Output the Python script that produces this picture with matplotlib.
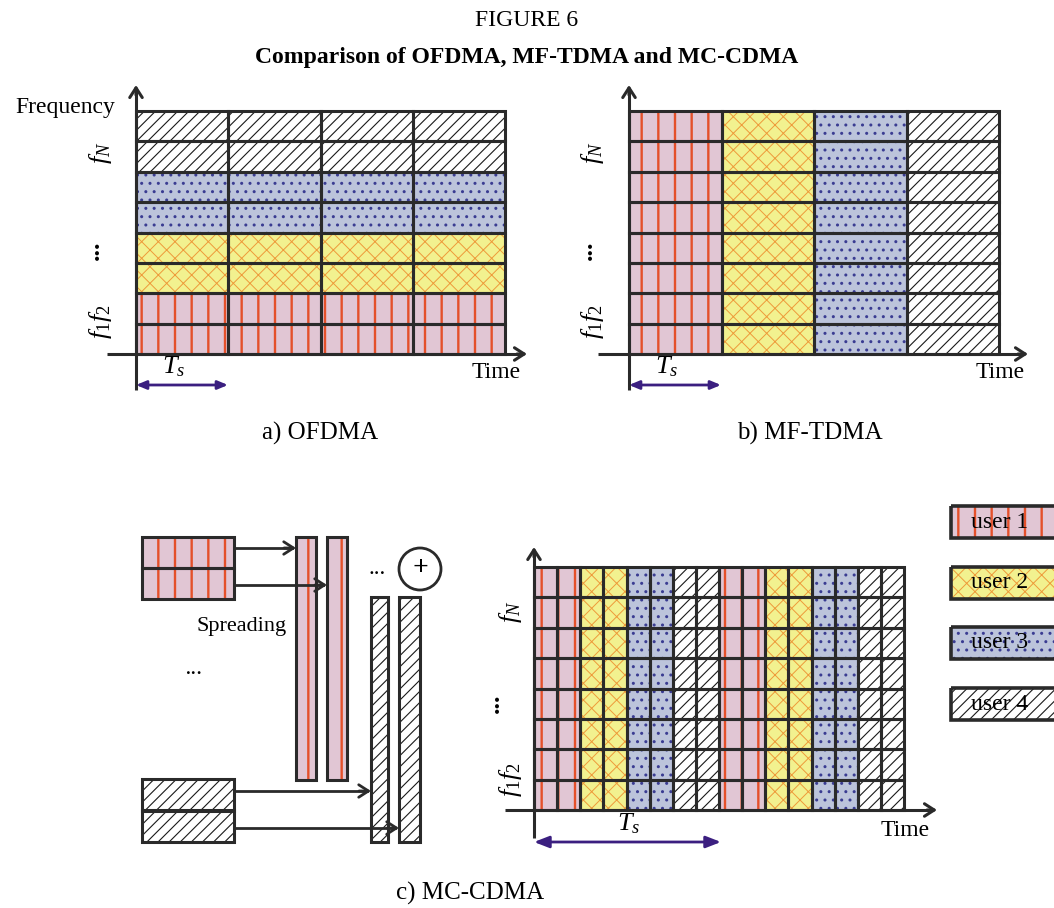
import matplotlib
matplotlib.use("Agg")
import matplotlib.pyplot as plt
from matplotlib.patches import Rectangle, Circle

plt.rcParams["font.family"] = ["Liberation Serif", "DejaVu Serif"]
plt.rcParams["mathtext.fontset"] = "custom"
plt.rcParams["mathtext.rm"] = "Liberation Serif"
plt.rcParams["mathtext.it"] = "Liberation Serif:italic"

# users and their fill styles
USERS = ["user 1", "user 2", "user 3", "user 4"]
USER_FILL = ["#E1C6D4", "#F2F18F", "#BCC4DB", "#FFFFFF"]
USER_HATCH = ["|", "xx", "..", "///"]
USER_HATCH_COLOR = ["#E4502A", "#EE9A3A", "#3A3C92", "#1A1A1A"]
USER_HATCH_LW = [1.7, 0.7, 1.0, 0.8]

# which user occupies each cell (row 0 = f1 at the bottom)
OFDMA_ROWS = [0, 0, 1, 1, 2, 2, 3, 3]
OFDMA_SLOTS = 4
TDMA_COLS = [0, 1, 2, 3]
TDMA_CHANNELS = 8
CDMA_COLS = [0, 0, 1, 1, 2, 2, 3, 3, 0, 0, 1, 1, 2, 2, 3, 3]
CDMA_CHANNELS = 8

CAPTIONS = ["a) OFDMA", "b) MF-TDMA", "c) MC-CDMA"]
TITLE = "FIGURE 6"
SUBTITLE = "Comparison of OFDMA, MF-TDMA and MC-CDMA"

GRID_COLOR = "#2A2A2A"
TS_COLOR = "#3B1F80"
FS = 17


def hatched_rect(ax, x, y, w, h, user, lw_edge=2.2, z=2):
    ax.add_patch(Rectangle((x, y), w, h, facecolor=USER_FILL[user],
                           edgecolor="none", zorder=z))
    with plt.rc_context({"hatch.linewidth": USER_HATCH_LW[user]}):
        p = Rectangle((x, y), w, h, facecolor="none",
                      edgecolor=USER_HATCH_COLOR[user], linewidth=0,
                      hatch=USER_HATCH[user], zorder=z + 0.1)
    if hasattr(p, "set_hatch_linewidth"):
        p.set_hatch_linewidth(USER_HATCH_LW[user])
    ax.add_patch(p)
    if lw_edge:
        ax.add_patch(Rectangle((x, y), w, h, facecolor="none",
                               edgecolor=GRID_COLOR, linewidth=lw_edge,
                               zorder=z + 0.2))


def draw_grid(ax, x0, x1, y_top, y_bot, layout, lw=2.2):
    n_rows, n_cols = len(layout), len(layout[0])
    w = (x1 - x0) / n_cols
    h = (y_bot - y_top) / n_rows
    for r in range(n_rows):
        for c in range(n_cols):
            hatched_rect(ax, x0 + c * w, y_bot - (r + 1) * h, w, h,
                         layout[r][c], lw_edge=lw)


def arrow(ax, start, tip, color=GRID_COLOR, lw=2.2, style="->,head_length=0.7,head_width=0.45"):
    ax.annotate("", xy=tip, xytext=start, zorder=5,
                arrowprops=dict(arrowstyle=style, color=color, lw=lw,
                                shrinkA=0, shrinkB=0))


def draw_axes(ax, x_ax, y_ax, x_left, x_tip, y_tip, y_low):
    ax.plot([x_ax, x_ax], [y_low, y_tip + 5], color=GRID_COLOR, lw=2.2, zorder=5,
            solid_capstyle="butt")
    arrow(ax, (x_ax, y_tip + 10), (x_ax, y_tip))
    ax.plot([x_left, x_tip - 5], [y_ax, y_ax], color=GRID_COLOR, lw=2.2, zorder=5,
            solid_capstyle="butt")
    arrow(ax, (x_tip - 10, y_ax), (x_tip, y_ax))


def freq_labels(ax, x, y_n, y_dots, y_12, dots_x):
    ax.text(x, y_n, "$f_N$", rotation=90, ha="center", va="center", fontsize=FS + 2)
    ax.text(dots_x, y_dots, "...", rotation=90, ha="center", va="center",
            fontsize=FS + 2, fontweight="bold")
    ax.text(x, y_12, "$f_1f_2$", rotation=90, ha="center", va="center", fontsize=FS + 2)


def ts_arrow(ax, x0, x1, y, label_x, label_y, big=False):
    style = ("<|-|>,head_length=0.9,head_width=0.35" if big
             else "<|-|>,head_length=0.6,head_width=0.25")
    ax.annotate("", xy=(x1, y), xytext=(x0, y), zorder=6,
                arrowprops=dict(arrowstyle=style, color=TS_COLOR, lw=2,
                                shrinkA=0, shrinkB=0))
    ax.text(label_x, label_y, "$T_s$", ha="center", va="center", fontsize=FS + 2)


fig = plt.figure(figsize=(10.54, 9.08), dpi=100)
ax = fig.add_axes([0, 0, 1, 1])
ax.set_xlim(0, 1054)
ax.set_ylim(908, 0)
ax.axis("off")

ax.text(527, 20, TITLE, ha="center", va="center", fontsize=FS)
ax.text(527, 57, SUBTITLE, ha="center", va="center", fontsize=FS, fontweight="bold")

# a) OFDMA
layout_a = [[u] * OFDMA_SLOTS for u in OFDMA_ROWS]
draw_grid(ax, 136, 505, 111, 354, layout_a)
draw_axes(ax, 136, 354, 107, 527, 85, 390)
ax.text(65, 108, "Frequency", ha="center", va="center", fontsize=FS)
freq_labels(ax, 100, 153, 250, 322, dots_x=92)
ts_arrow(ax, 136, 228, 385, 174, 367)
ax.text(496, 373, "Time", ha="center", va="center", fontsize=FS)
ax.text(320, 433, CAPTIONS[0], ha="center", va="center", fontsize=FS + 1)

# b) MF-TDMA
layout_b = [list(TDMA_COLS) for _ in range(TDMA_CHANNELS)]
draw_grid(ax, 629, 999, 111, 354, layout_b)
draw_axes(ax, 629, 354, 598, 1028, 85, 390)
freq_labels(ax, 593, 153, 250, 322, dots_x=585)
ts_arrow(ax, 629, 721, 385, 667, 367)
ax.text(1000, 373, "Time", ha="center", va="center", fontsize=FS)
ax.text(810, 433, CAPTIONS[1], ha="center", va="center", fontsize=FS + 1)

# c) MC-CDMA grid
layout_c = [list(CDMA_COLS) for _ in range(CDMA_CHANNELS)]
draw_grid(ax, 534, 904, 567, 810, layout_c)
draw_axes(ax, 534, 810, 505, 937, 547, 838)
freq_labels(ax, 510, 612, 703, 780, dots_x=492)
ts_arrow(ax, 534, 721, 842, 629, 824, big=True)
ax.text(905, 831, "Time", ha="center", va="center", fontsize=FS)
ax.text(470, 893, CAPTIONS[2], ha="center", va="center", fontsize=FS + 1)

# c) spreading sketch
for top in (537, 568):
    hatched_rect(ax, 142, top, 92, 31, USERS.index("user 1"))
for top in (779, 810):
    hatched_rect(ax, 142, top, 92, 32, USERS.index("user 4"))
hatched_rect(ax, 296, 537, 20, 243, 0)
hatched_rect(ax, 327, 537, 20, 243, 0)
hatched_rect(ax, 371, 597, 17, 245, 3)
hatched_rect(ax, 399, 597, 21, 245, 3)
for y, x_end in ((548, 296), (585, 327), (791, 371), (828, 399)):
    ax.plot([234, x_end - 4], [y, y], color=GRID_COLOR, lw=2, zorder=5)
    arrow(ax, (x_end - 12, y), (x_end, y), lw=2)
ax.add_patch(Circle((420, 569), 21, facecolor="white", edgecolor=GRID_COLOR,
                    lw=2, zorder=5))
ax.text(420, 569, "+", ha="center", va="center", fontsize=FS + 3,
        fontweight="bold", zorder=6)
ax.text(377, 569, "...", ha="center", va="center", fontsize=FS)
ax.text(242, 626, "Spreading", ha="center", va="center", fontsize=FS - 1)
ax.text(194, 668, "...", ha="center", va="center", fontsize=FS, style="italic")

# legend (runs off the right edge)
for i, (name, cy) in enumerate(zip(USERS, (522, 583, 643, 704))):
    hatched_rect(ax, 951, cy - 16, 120, 32, i, lw_edge=2.6)
    ax.text(1000, cy, name, ha="center", va="center", fontsize=FS, zorder=8)

fig.savefig("out.png", dpi=100)
